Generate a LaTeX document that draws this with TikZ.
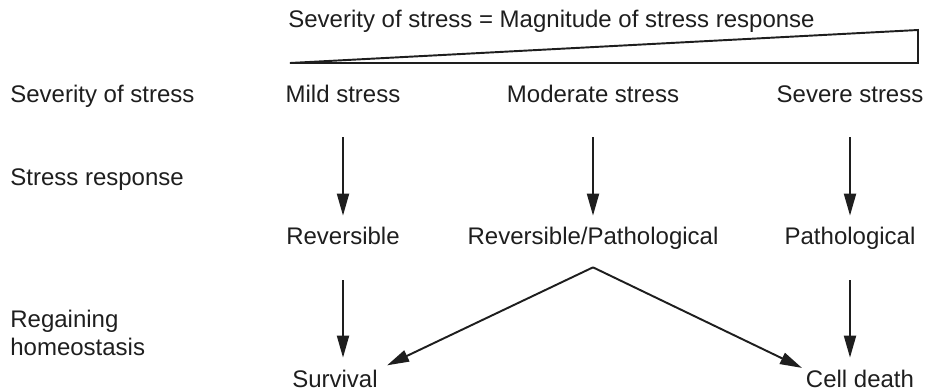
\documentclass[tikz,border=0pt]{standalone}
\usepackage{fontspec}
\setmainfont{Liberation Sans}
\usepackage{tikz}
\usetikzlibrary{arrows.meta, positioning}
\definecolor{inkblack}{RGB}{30, 30, 30}
\tikzset{
  >=Stealth,
  flowarrow/.style={-{Triangle[length=0.44cm, width=0.24cm]}, line width=1.1pt, inkblack},
  stagetext/.style={inner sep=0pt, text height=0.34cm, text depth=0.1cm, text=inkblack},
  rowtext/.style={inner sep=0pt, text=inkblack, align=left}
}

\begin{document}
\begin{tikzpicture}[x=0.02cm, y=-0.02cm, font=\fontsize{13.66pt}{15.94pt}\selectfont]
    \useasboundingbox (0,0) rectangle (929,391);
    % title and wedge
    \node (title) [stagetext, anchor=base west] at (288,28) {Severity of stress = Magnitude of stress response};
    \draw[line width=1.1pt, inkblack, line join=miter] (290,63) -- (918,63) -- (918,30) -- cycle;
    % row labels
    \node (sevlbl) [stagetext, anchor=base west] at (10,103) {Severity of stress};
    \node (resplbl) [stagetext, anchor=base west] at (10,186) {Stress response};
    \node (homeolbl) [rowtext, anchor=north west] at (10,310) {Regaining\\homeostasis};
    % stages
    \node (mild) [stagetext, anchor=base] at (343,103) {Mild stress};
    \node (moderate) [stagetext, anchor=base] at (593,103) {Moderate stress};
    \node (severe) [stagetext, anchor=base] at (850,103) {Severe stress};
    \node (rev) [stagetext, anchor=base] at (343,245) {Reversible};
    \node (revpath) [stagetext, anchor=base] at (593,245) {Reversible/Pathological};
    \node (path) [stagetext, anchor=base] at (850,245) {Pathological};
    \node (surv) [stagetext, anchor=base] at (335,387) {Survival};
    \node (death) [stagetext, anchor=base] at (860,387) {Cell death};
    \coordinate (split) at ([yshift=-0.34cm]revpath.south);
    % arrows
    \draw[flowarrow, shorten <=0.58cm, shorten >=0.24cm] (mild) -- (rev);
    \draw[flowarrow, shorten <=0.58cm, shorten >=0.24cm] (moderate) -- (revpath);
    \draw[flowarrow, shorten <=0.58cm, shorten >=0.24cm] (severe) -- (path);
    \draw[flowarrow, shorten <=0.6cm, shorten >=0.24cm] (rev) -- (surv.north -| rev);
    \draw[flowarrow, shorten <=0.6cm, shorten >=0.24cm] (path) -- (death.north -| path);
    \draw[flowarrow, shorten >=0.2cm] (split) -- (surv.north east);
    \draw[flowarrow, shorten >=0.08cm] (split) -- (death.north west);
\end{tikzpicture}
\end{document}
